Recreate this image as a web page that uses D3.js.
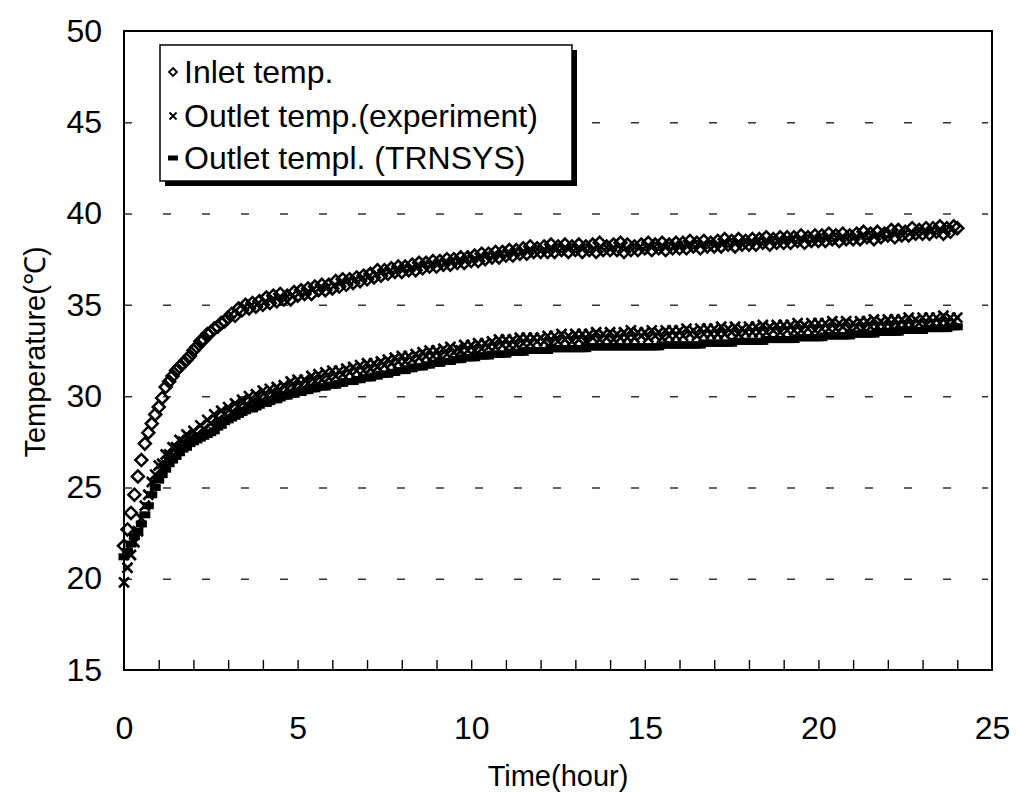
<!DOCTYPE html>
<html>
<head>
<meta charset="utf-8">
<script src="https://cdn.jsdelivr.net/npm/d3@7"></script>
<style>
  html, body { margin: 0; padding: 0; background: #fff; }
  svg { display: block; font-family: "Liberation Sans", Arial, sans-serif; }
</style>
</head>
<body>
<div id="chart"></div>
<script>
// logged every 6 minutes (0.1 h), 0 .. 24 h
const STEP = 0.1;

// inlet temperature, one row per hour
const inletTemp = [
  21.8, 22.7, 23.6, 24.6, 25.6, 26.5, 27.4, 28.0, 28.5, 29.0,
  29.4, 29.9, 30.5, 30.8, 31.1, 31.4, 31.6, 31.8, 32.0, 32.2,
  32.5, 32.7, 33.0, 33.1, 33.4, 33.5, 33.7, 33.8, 34.0, 34.1,
  34.3, 34.5, 34.4, 34.8, 34.7, 35.0, 34.8, 35.1, 34.9, 35.2,
  35.0, 35.4, 35.1, 35.5, 35.2, 35.6, 35.3, 35.5, 35.3, 35.7,
  35.5, 35.8, 35.6, 35.9, 35.6, 36.0, 35.8, 36.1, 35.8, 36.1,
  35.9, 36.3, 36.0, 36.4, 36.1, 36.4, 36.2, 36.5, 36.3, 36.6,
  36.4, 36.7, 36.5, 36.9, 36.6, 36.9, 36.7, 37.0, 36.8, 37.1,
  36.8, 37.1, 36.9, 37.2, 36.9, 37.3, 37.0, 37.3, 37.1, 37.4,
  37.1, 37.4, 37.2, 37.5, 37.2, 37.5, 37.3, 37.6, 37.3, 37.6,
  37.4, 37.7, 37.4, 37.8, 37.5, 37.8, 37.6, 37.9, 37.6, 37.9,
  37.7, 38.0, 37.7, 38.0, 37.8, 38.1, 37.8, 38.2, 37.9, 38.1,
  37.9, 38.2, 37.9, 38.3, 37.9, 38.2, 38.0, 38.3, 37.9, 38.2,
  38.0, 38.3, 37.9, 38.2, 38.0, 38.3, 37.9, 38.4, 38.0, 38.2,
  38.0, 38.3, 38.0, 38.4, 37.9, 38.3, 38.0, 38.2, 38.0, 38.3,
  38.1, 38.4, 38.0, 38.3, 38.1, 38.4, 38.0, 38.3, 38.1, 38.4,
  38.1, 38.4, 38.1, 38.5, 38.2, 38.4, 38.1, 38.5, 38.2, 38.4,
  38.2, 38.5, 38.2, 38.6, 38.3, 38.5, 38.2, 38.6, 38.3, 38.5,
  38.3, 38.6, 38.3, 38.6, 38.4, 38.7, 38.3, 38.6, 38.4, 38.7,
  38.4, 38.7, 38.4, 38.7, 38.5, 38.8, 38.4, 38.7, 38.5, 38.8,
  38.5, 38.8, 38.5, 38.9, 38.6, 38.8, 38.5, 38.9, 38.6, 38.8,
  38.6, 38.9, 38.6, 39.0, 38.7, 38.9, 38.6, 39.0, 38.7, 38.9,
  38.8, 39.1, 38.7, 39.1, 38.8, 39.0, 38.8, 39.2, 38.9, 39.1,
  38.9, 39.2, 38.9, 39.2, 39.0, 39.3, 38.9, 39.2, 39.0, 39.3,
  39.2
];

// measured outlet temperature
const outletExp = [
  19.8, 20.6, 21.3, 22.0, 22.6, 23.3, 24.0, 24.6, 25.3, 25.7,
  26.2, 26.3, 26.8, 26.8, 27.2, 27.2, 27.6, 27.5, 27.9, 27.7,
  28.1, 27.9, 28.4, 28.2, 28.7, 28.5, 29.0, 28.7, 29.2, 29.0,
  29.4, 29.1, 29.6, 29.4, 29.8, 29.5, 30.0, 29.7, 30.1, 29.9,
  30.3, 30.0, 30.4, 30.1, 30.5, 30.3, 30.6, 30.4, 30.8, 30.5,
  30.9, 30.6, 30.9, 30.7, 31.1, 30.8, 31.2, 30.9, 31.3, 31.0,
  31.4, 31.1, 31.4, 31.2, 31.5, 31.3, 31.6, 31.4, 31.7, 31.4,
  31.8, 31.5, 31.8, 31.6, 31.9, 31.7, 32.0, 31.8, 32.1, 31.9,
  32.2, 31.9, 32.2, 32.0, 32.3, 32.1, 32.4, 32.2, 32.5, 32.2,
  32.5, 32.2, 32.6, 32.3, 32.7, 32.4, 32.6, 32.5, 32.8, 32.5,
  32.8, 32.5, 32.9, 32.6, 32.9, 32.7, 33.0, 32.7, 33.1, 32.8,
  33.1, 32.8, 33.1, 32.8, 33.2, 32.9, 33.2, 32.9, 33.2, 33.0,
  33.2, 33.0, 33.3, 32.9, 33.3, 33.0, 33.4, 33.1, 33.3, 33.0,
  33.4, 33.1, 33.4, 33.0, 33.4, 33.2, 33.5, 33.1, 33.4, 33.2,
  33.5, 33.1, 33.4, 33.2, 33.5, 33.2, 33.6, 33.2, 33.5, 33.3,
  33.5, 33.2, 33.6, 33.3, 33.5, 33.2, 33.6, 33.3, 33.6, 33.3,
  33.6, 33.3, 33.7, 33.4, 33.6, 33.3, 33.7, 33.4, 33.7, 33.4,
  33.7, 33.4, 33.8, 33.4, 33.7, 33.5, 33.8, 33.4, 33.7, 33.5,
  33.8, 33.5, 33.8, 33.5, 33.9, 33.5, 33.8, 33.6, 33.9, 33.5,
  33.9, 33.6, 33.9, 33.6, 34.0, 33.6, 33.9, 33.7, 34.0, 33.6,
  34.0, 33.7, 34.0, 33.7, 34.1, 33.7, 34.0, 33.8, 34.1, 33.7,
  34.0, 33.8, 34.1, 33.7, 34.1, 33.8, 34.2, 33.8, 34.1, 33.8,
  34.2, 33.8, 34.2, 33.9, 34.2, 33.9, 34.3, 33.9, 34.2, 34.0,
  34.3, 33.9, 34.3, 34.0, 34.3, 34.0, 34.4, 34.0, 34.3, 34.1,
  34.3
];

// simulated outlet temperature (TRNSYS)
const outletSim = [
  21.2, 21.5, 21.9, 22.3, 22.6, 23.0, 23.5, 24.0, 24.6, 25.0,
  25.4, 25.7, 26.0, 26.3, 26.5, 26.7, 26.9, 27.1, 27.2, 27.4,
  27.5, 27.6, 27.7, 27.8, 27.9, 28.0, 28.1, 28.3, 28.4, 28.6,
  28.7, 28.8, 28.9, 29.0, 29.1, 29.2, 29.3, 29.3, 29.4, 29.5,
  29.6, 29.6, 29.7, 29.8, 29.8, 29.9, 30.0, 30.0, 30.1, 30.1,
  30.2, 30.2, 30.3, 30.3, 30.4, 30.4, 30.5, 30.5, 30.5, 30.6,
  30.6, 30.6, 30.7, 30.7, 30.8, 30.8, 30.8, 30.9, 30.9, 31.0,
  31.0, 31.0, 31.1, 31.1, 31.2, 31.2, 31.2, 31.3, 31.3, 31.4,
  31.4, 31.4, 31.5, 31.5, 31.6, 31.6, 31.6, 31.7, 31.7, 31.8,
  31.8, 31.8, 31.9, 31.9, 31.9, 32.0, 32.0, 32.0, 32.1, 32.1,
  32.1, 32.1, 32.2, 32.2, 32.2, 32.2, 32.3, 32.3, 32.3, 32.3,
  32.3, 32.4, 32.4, 32.4, 32.4, 32.4, 32.5, 32.5, 32.5, 32.5,
  32.5, 32.5, 32.5, 32.6, 32.6, 32.6, 32.6, 32.6, 32.6, 32.6,
  32.6, 32.6, 32.6, 32.6, 32.7, 32.7, 32.7, 32.7, 32.7, 32.7,
  32.7, 32.7, 32.7, 32.7, 32.7, 32.7, 32.7, 32.7, 32.7, 32.7,
  32.7, 32.7, 32.7, 32.7, 32.7, 32.8, 32.8, 32.8, 32.8, 32.8,
  32.8, 32.8, 32.8, 32.8, 32.8, 32.8, 32.8, 32.9, 32.9, 32.9,
  32.9, 32.9, 32.9, 32.9, 32.9, 32.9, 33.0, 33.0, 33.0, 33.0,
  33.0, 33.0, 33.0, 33.0, 33.0, 33.1, 33.1, 33.1, 33.1, 33.1,
  33.1, 33.1, 33.1, 33.1, 33.2, 33.2, 33.2, 33.2, 33.2, 33.2,
  33.2, 33.2, 33.3, 33.3, 33.3, 33.3, 33.3, 33.3, 33.3, 33.3,
  33.4, 33.4, 33.4, 33.4, 33.4, 33.4, 33.4, 33.5, 33.5, 33.5,
  33.5, 33.5, 33.5, 33.5, 33.6, 33.6, 33.6, 33.6, 33.6, 33.6,
  33.6, 33.7, 33.7, 33.7, 33.7, 33.7, 33.7, 33.7, 33.8, 33.8,
  33.8
];

const xTicks = [0, 5, 10, 15, 20, 25];
const yTicks = [15, 20, 25, 30, 35, 40, 45, 50];
const legendLabels = ["Inlet temp.", "Outlet temp.(experiment)", "Outlet templ. (TRNSYS)"];

const width = 1017, height = 794;
const plotLeft = 124, plotRight = 992, plotTop = 31, plotBottom = 670;

const svg = d3.select("#chart").append("svg")
    .attr("width", width)
    .attr("height", height);

let x = d3.scaleLinear().domain([0, 25]).range([plotLeft, plotRight]);
let y = d3.scaleLinear().domain([15, 50]).range([plotBottom, plotTop]);

// dashed grid lines
svg.append("g")
    .attr("transform", "translate(" + plotLeft + ",0)")
    .call(d3.axisLeft(y).tickValues([20, 25, 30, 35, 40, 45]).tickSize(-(plotRight - plotLeft - 4)).tickFormat(""))
    .call(g => g.select(".domain").remove())
    .call(g => g.selectAll("line").attr("stroke", "#333").attr("stroke-width", 1.5).attr("stroke-dasharray", "8,31"));

// minor ticks on the bottom, pointing inward
svg.append("g")
    .attr("transform", "translate(0," + plotBottom + ")")
    .call(d3.axisBottom(x).tickValues(d3.range(1, 25)).tickSize(-10).tickFormat(""))
    .call(g => g.select(".domain").remove())
    .call(g => g.selectAll("line").attr("stroke", "#000").attr("stroke-width", 1.4));

// tick labels
svg.append("g")
    .attr("transform", "translate(0," + plotBottom + ")")
    .call(d3.axisBottom(x).tickValues(xTicks).tickSize(0).tickPadding(46))
    .call(g => g.select(".domain").remove())
    .call(g => g.selectAll("text").attr("font-size", 32).attr("fill", "#000")
        .style("font-family", "'Liberation Sans', Arial, sans-serif"));

svg.append("g")
    .attr("transform", "translate(" + plotLeft + ",0)")
    .call(d3.axisLeft(y).tickValues(yTicks).tickSize(0).tickPadding(22))
    .call(g => g.select(".domain").remove())
    .call(g => g.selectAll("text").attr("font-size", 32).attr("fill", "#000")
        .style("font-family", "'Liberation Sans', Arial, sans-serif"));

// plot frame
svg.append("rect")
    .attr("x", plotLeft).attr("y", plotTop)
    .attr("width", plotRight - plotLeft).attr("height", plotBottom - plotTop)
    .attr("fill", "none").attr("stroke", "#000").attr("stroke-width", 2);

// series
const marks = svg.append("g");

marks.selectAll(".sim")
    .data(outletSim)
    .enter()
    .append("rect")
    .attr("class", "sim")
    .attr("x", (d, i) => x(i * STEP) - 5.5)
    .attr("y", d => y(d) - 3.5)
    .attr("width", 11)
    .attr("height", 7)
    .attr("fill", "#000");

marks.selectAll(".exp")
    .data(outletExp)
    .enter()
    .append("path")
    .attr("class", "exp")
    .attr("d", "M-5,-5L5,5M-5,5L5,-5")
    .attr("transform", (d, i) => "translate(" + x(i * STEP) + "," + y(d) + ")")
    .attr("stroke", "#000")
    .attr("stroke-width", 2.7)
    .attr("fill", "none");

marks.selectAll(".inlet")
    .data(inletTemp)
    .enter()
    .append("path")
    .attr("class", "inlet")
    .attr("d", "M0,-6L6,0L0,6L-6,0Z")
    .attr("transform", (d, i) => "translate(" + x(i * STEP) + "," + y(d) + ")")
    .attr("stroke", "#000")
    .attr("stroke-width", 2.5)
    .attr("fill", "none");

// axis titles
svg.append("text")
    .attr("x", 558).attr("y", 786)
    .attr("text-anchor", "middle")
    .attr("font-size", 29)
    .text("Time(hour)");

svg.append("text")
    .attr("transform", "translate(45,352) rotate(-90)")
    .attr("text-anchor", "middle")
    .attr("font-size", 29)
    .text("Temperature(℃)");

// legend with drop shadow
const legend = svg.append("g");
legend.append("rect")
    .attr("x", 165).attr("y", 50).attr("width", 412).attr("height", 136)
    .attr("fill", "#000");
legend.append("rect")
    .attr("x", 160).attr("y", 45).attr("width", 412).attr("height", 136)
    .attr("fill", "#fff").attr("stroke", "#000").attr("stroke-width", 1.5);

const rowY = [72, 116, 158];
legend.append("path")
    .attr("d", "M0,-4L4,0L0,4L-4,0Z")
    .attr("transform", "translate(173," + rowY[0] + ")")
    .attr("stroke", "#000").attr("stroke-width", 1.8).attr("fill", "none");
legend.append("path")
    .attr("d", "M-3.5,-3.5L3.5,3.5M-3.5,3.5L3.5,-3.5")
    .attr("transform", "translate(173," + rowY[1] + ")")
    .attr("stroke", "#000").attr("stroke-width", 1.8);
legend.append("rect")
    .attr("x", 168).attr("y", rowY[2] - 2.5).attr("width", 10).attr("height", 5)
    .attr("fill", "#000");

legend.selectAll(".ltext")
    .data(legendLabels)
    .enter()
    .append("text")
    .attr("class", "ltext")
    .attr("x", 184)
    .attr("y", (d, i) => rowY[i] + 11)
    .attr("font-size", 32)
    .text(d => d);
</script>
</body>
</html>
